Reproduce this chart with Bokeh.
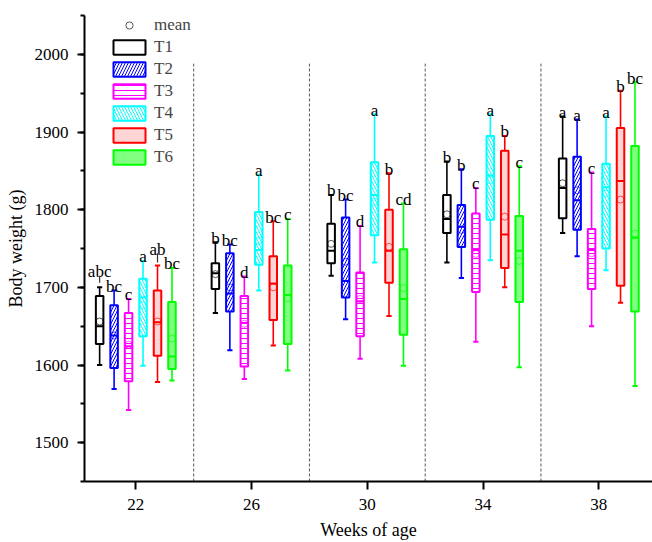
from bokeh.plotting import figure
from bokeh.models import ColumnDataSource, FixedTicker, SingleIntervalTicker, Legend, LegendItem, Range1d
from bokeh.embed import file_html
from bokeh.resources import INLINE
from bokeh.core.properties import value

# ---------------- data ----------------
weeks = [22, 26, 30, 34, 38]
groups = ["T1", "T2", "T3", "T4", "T5", "T6"]

whisker_low = {
    "T1": [1600, 1667, 1715, 1732, 1770],
    "T2": [1569, 1619, 1659, 1712, 1740],
    "T3": [1542, 1582, 1608, 1630, 1650],
    "T4": [1599, 1696, 1732, 1735, 1722],
    "T5": [1578, 1625, 1663, 1700, 1680],
    "T6": [1580, 1593, 1599, 1597, 1573],
}
box_low = {
    "T1": [1627, 1698, 1731, 1770, 1789],
    "T2": [1596, 1669, 1687, 1752, 1774],
    "T3": [1579, 1598, 1637, 1694, 1698],
    "T4": [1637, 1729, 1767, 1787, 1750],
    "T5": [1612, 1658, 1706, 1725, 1702],
    "T6": [1595, 1627, 1639, 1681, 1669],
}
median = {
    "T1": [1650, 1718, 1747, 1788, 1828],
    "T2": [1638, 1692, 1708, 1778, 1812],
    "T3": [1624, 1654, 1682, 1748, 1748],
    "T4": [1687, 1748, 1819, 1844, 1829],
    "T5": [1655, 1705, 1747, 1768, 1837],
    "T6": [1611, 1690, 1685, 1747, 1764],
}
box_high = {
    "T1": [1689, 1731, 1782, 1819, 1866],
    "T2": [1677, 1744, 1790, 1806, 1868],
    "T3": [1667, 1689, 1719, 1795, 1775],
    "T4": [1711, 1797, 1861, 1895, 1859],
    "T5": [1696, 1740, 1800, 1876, 1905],
    "T6": [1681, 1728, 1749, 1792, 1882],
}
whisker_high = {
    "T1": [1700, 1758, 1819, 1862, 1920],
    "T2": [1696, 1755, 1813, 1852, 1916],
    "T3": [1685, 1714, 1779, 1828, 1848],
    "T4": [1734, 1845, 1923, 1923, 1920],
    "T5": [1728, 1785, 1847, 1895, 1953],
    "T6": [1725, 1788, 1808, 1856, 1964],
}
means = {
    "T1": [1656, 1717, 1756, 1794, 1834],
    "T2": [1638, 1700, 1733, 1774, 1825],
    "T3": [1626, 1653, 1685, 1743, 1744],
    "T4": [1677, 1760, 1810, 1838, 1821],
    "T5": [1656, 1700, 1752, 1791, 1813],
    "T6": [1634, 1686, 1699, 1734, 1769],
}
letters = {
    "T1": ["abc", "b", "b", "b", "a"],
    "T2": ["bc", "bc", "bc", "b", "a"],
    "T3": ["c", "d", "d", "c", "c"],
    "T4": ["a", "a", "a", "a", "a"],
    "T5": ["ab", "bc", "b", "b", "b"],
    "T6": ["bc", "c", "cd", "c", "bc"],
}
# small extra bars above two whiskers at week 22
extra_group = ["T1", "T5"]
extra_week = [22, 22]
extra_low = [1706, 1732]
extra_high = [1715, 1744]

separators = [24, 28, 32, 36]
x_ticks = [22, 26, 30, 34, 38]

# ---------------- styles ----------------
FONT = "Liberation Serif"
offsets = [-1.25, -0.75, -0.25, 0.25, 0.75, 1.25]
line_colors = ["#000000", "#0000FF", "#FF00FF", "#00FFFF", "#FF0000", "#00FF00"]
fill_colors = ["#FFFFFF", "#FFFFFF", "#FFFFFF", "#FFFFFF", "#FFD4D4", "#80FF80"]
hatches = [None, "/", "-", "\\", None, None]
hatch_scales = [6, 6, 5, 6, 6, 6]
BOX_W = 0.26
CAP_W = 0.18

p = figure(width=652, height=542, output_backend="svg", toolbar_location=None,
           x_range=Range1d(20.227, 39.855), y_range=Range1d(1450, 2050),
           min_border_left=84, min_border_right=0, min_border_top=15, min_border_bottom=60)
p.outline_line_color = None
p.grid.visible = False

# axes
p.xaxis.ticker = FixedTicker(ticks=x_ticks)
p.xaxis.minor_tick_line_color = None
p.yaxis.ticker = SingleIntervalTicker(interval=100, num_minor_ticks=2)
for ax in (p.xaxis, p.yaxis):
    ax.axis_line_width = 2
    ax.axis_line_color = "black"
    ax.major_tick_line_width = 2
    ax.major_tick_in = 0
    ax.minor_tick_in = 0
    ax.minor_tick_line_width = 2
    ax.major_label_text_font = FONT
    ax.major_label_text_font_size = "17px"
    ax.major_label_text_color = "black"
    ax.axis_label_text_font = FONT
    ax.axis_label_text_font_size = "18px"
    ax.axis_label_text_font_style = "normal"
    ax.axis_label_text_color = "black"
p.xaxis.major_tick_out = 8
p.yaxis.major_tick_out = 7
p.yaxis.minor_tick_out = 4
p.xaxis.axis_label = "Weeks of age"
p.yaxis.axis_label = "Body weight (g)"
p.xaxis.major_label_standoff = 9
p.xaxis.axis_label_standoff = 7
p.yaxis.major_label_standoff = 9
p.yaxis.axis_label_standoff = 6

# separators
p.segment(x0=separators, y0=[1450] * 4, x1=separators, y1=[1988] * 4,
          line_color="#555555", line_width=1, line_dash="3 2")

box_renderers = {}
mean_renderers = {}
for i, g in enumerate(groups):
    xs = [w + offsets[i] for w in weeks]
    lab_y = list(whisker_high[g])
    for eg, ew, eh in zip(extra_group, extra_week, extra_high):
        if eg == g:
            lab_y[weeks.index(ew)] = eh
    src = ColumnDataSource(dict(
        x=xs,
        xl=[x - BOX_W / 2 for x in xs], xr=[x + BOX_W / 2 for x in xs],
        cl=[x - CAP_W / 2 for x in xs], cr=[x + CAP_W / 2 for x in xs],
        wl=whisker_low[g], q1=box_low[g], med=median[g], q3=box_high[g],
        wh=whisker_high[g], mean=means[g], label=letters[g], lab_y=lab_y,
    ))
    c = line_colors[i]
    p.segment(x0="x", y0="q3", x1="x", y1="wh", source=src, line_color=c, line_width=1.6)
    p.segment(x0="x", y0="q1", x1="x", y1="wl", source=src, line_color=c, line_width=1.6)
    p.segment(x0="cl", y0="wh", x1="cr", y1="wh", source=src, line_color=c, line_width=2)
    p.segment(x0="cl", y0="wl", x1="cr", y1="wl", source=src, line_color=c, line_width=2)
    kw = {}
    if hatches[i]:
        kw = dict(hatch_pattern=hatches[i], hatch_color=c, hatch_scale=hatch_scales[i], hatch_weight=1)
    r = p.vbar(x="x", width=BOX_W, bottom="q1", top="q3", source=src,
               fill_color=fill_colors[i], line_color=c, line_width=2, **kw)
    box_renderers[g] = r
    p.segment(x0="xl", y0="med", x1="xr", y1="med", source=src, line_color=c, line_width=2)
    mean_renderers[g] = p.scatter(x="x", y="mean", source=src, marker="circle", size=7,
                                  fill_color=None, line_color=c, line_alpha=0.65, line_width=1)
    p.text(x="x", y="lab_y", text="label", source=src, text_align="center",
           text_baseline="alphabetic", y_offset=-4, text_font=value(FONT),
           text_font_size="17px", text_color="black")

# extra small bars
ex_x = [w + offsets[groups.index(g)] for g, w in zip(extra_group, extra_week)]
p.segment(x0=ex_x, y0=extra_low, x1=ex_x, y1=extra_high, line_color="#333333", line_width=1.2)

# legend
items = [LegendItem(label="mean", renderers=[mean_renderers["T1"]])]
items += [LegendItem(label=g, renderers=[box_renderers[g]]) for g in groups]
legend = Legend(items=items, location=(25, 314), padding=0, margin=0, spacing=2,
                glyph_width=40, glyph_height=18, label_height=18, label_standoff=5,
                label_text_font=FONT, label_text_font_size="17px",
                background_fill_alpha=0, border_line_alpha=0)
p.add_layout(legend)

open("out.html", "w").write(file_html(p, INLINE))
